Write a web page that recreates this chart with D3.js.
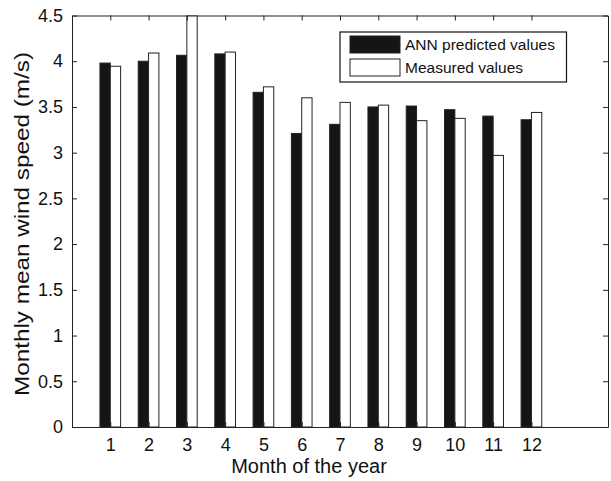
<!DOCTYPE html>
<html>
<head>
<meta charset="utf-8">
<script src="https://cdn.jsdelivr.net/npm/d3@7"></script>
<style>
  body { margin: 0; background: #fff; }
  svg { font-family: "Liberation Sans", Arial, sans-serif; }
</style>
</head>
<body>
<div id="chart"></div>
<script>
// months on the x axis
const months = [1, 2, 3, 4, 5, 6, 7, 8, 9, 10, 11, 12];
// ANN predicted monthly mean wind speed (m/s)
const predicted = [3.98, 4.00, 4.065, 4.08, 3.66, 3.21, 3.31, 3.50, 3.51, 3.47, 3.40, 3.36];
// measured monthly mean wind speed (m/s)
const measured = [3.945, 4.09, 4.5, 4.10, 3.72, 3.60, 3.55, 3.52, 3.35, 3.375, 2.97, 3.44];
const yTicks = [0, 0.5, 1, 1.5, 2, 2.5, 3, 3.5, 4, 4.5];
const seriesNames = ["ANN predicted values", "Measured values"];

const W = 611, H = 481;
const plot = { left: 72, right: 608, top: 15.5, bottom: 427 };

const svg = d3.select("#chart").append("svg")
    .attr("width", W)
    .attr("height", H);

const x = d3.scaleLinear().domain([0, 14]).range([plot.left, plot.right]);
const y = d3.scaleLinear().domain([0, 4.5]).range([plot.bottom, plot.top]);

// two bars per month, side by side
const barW = 0.27;
const sub = d3.scaleBand().domain(seriesNames).range([-barW, barW]).padding(0);

const data = months.map((m, i) => ({ month: m, values: [predicted[i], measured[i]] }));

svg.append("clipPath").attr("id", "clip")
  .append("rect")
    .attr("x", plot.left).attr("y", plot.top)
    .attr("width", plot.right - plot.left)
    .attr("height", plot.bottom - plot.top);

const bars = svg.append("g").attr("clip-path", "url(#clip)");

bars.selectAll("g.month")
    .data(data)
    .enter()
  .append("g")
    .attr("class", "month")
  .selectAll("rect")
    .data(d => d.values.map((v, k) => ({ month: d.month, key: seriesNames[k], value: v })))
    .enter()
  .append("rect")
    .attr("x", d => x(d.month + sub(d.key)))
    .attr("y", d => y(d.value))
    .attr("width", d => x(d.month + sub(d.key) + sub.bandwidth()) - x(d.month + sub(d.key)))
    .attr("height", d => y(0) - y(d.value))
    .attr("fill", d => d.key === seriesNames[0] ? "#131614" : "#fff")
    .attr("stroke", "#222")
    .attr("stroke-width", 1);

// axes with inward ticks, box around plot
const tickSize = 5;
const axisColor = "#222";

function styleAxis(g) {
  g.select(".domain").attr("stroke", axisColor);
  g.selectAll(".tick line").attr("stroke", axisColor);
  g.selectAll(".tick text").attr("fill", "#111").style("font-size", "18px");
}

svg.append("g")
    .attr("transform", `translate(0,${plot.bottom})`)
    .call(d3.axisBottom(x).tickValues(months).tickSizeInner(-tickSize).tickSizeOuter(0).tickPadding(11))
    .call(styleAxis);

svg.append("g")
    .attr("transform", `translate(0,${plot.top})`)
    .call(d3.axisTop(x).tickValues(months).tickSizeInner(-tickSize).tickSizeOuter(0).tickFormat(""))
    .call(styleAxis);

svg.append("g")
    .attr("transform", `translate(${plot.left},0)`)
    .call(d3.axisLeft(y).tickValues(yTicks).tickSizeInner(-tickSize).tickSizeOuter(0).tickPadding(9).tickFormat(d3.format("")))
    .call(styleAxis);

svg.append("g")
    .attr("transform", `translate(${plot.right},0)`)
    .call(d3.axisRight(y).tickValues(yTicks).tickSizeInner(-tickSize).tickSizeOuter(0).tickFormat(""))
    .call(styleAxis);

svg.selectAll("g text").attr("font-family", null);

// axis titles
svg.append("text")
    .attr("x", 309)
    .attr("y", 473)
    .attr("text-anchor", "middle")
    .style("font-size", "20px")
    .attr("fill", "#111")
    .text("Month of the year");

svg.append("text")
    .attr("transform", `translate(29,224) rotate(-90)`)
    .attr("text-anchor", "middle")
    .attr("textLength", 344)
    .attr("lengthAdjust", "spacingAndGlyphs")
    .style("font-size", "21px")
    .attr("fill", "#111")
    .text("Monthly mean wind speed (m/s)");

// legend
const legend = svg.append("g");
legend.append("rect")
    .attr("x", 340).attr("y", 32)
    .attr("width", 226.5).attr("height", 50)
    .attr("fill", "#fff")
    .attr("stroke", "#111")
    .attr("stroke-width", 1.2);

const legendItems = legend.selectAll("g.item")
    .data(seriesNames)
    .enter()
  .append("g")
    .attr("class", "item")
    .attr("transform", (d, i) => `translate(350,${36 + i * 23})`);

legendItems.append("rect")
    .attr("width", 50).attr("height", 17)
    .attr("fill", (d, i) => i === 0 ? "#131614" : "#fff")
    .attr("stroke", "#222");

legendItems.append("text")
    .attr("x", 55)
    .attr("y", 14)
    .style("font-size", "15.5px")
    .attr("fill", "#111")
    .text(d => d);
</script>
</body>
</html>
